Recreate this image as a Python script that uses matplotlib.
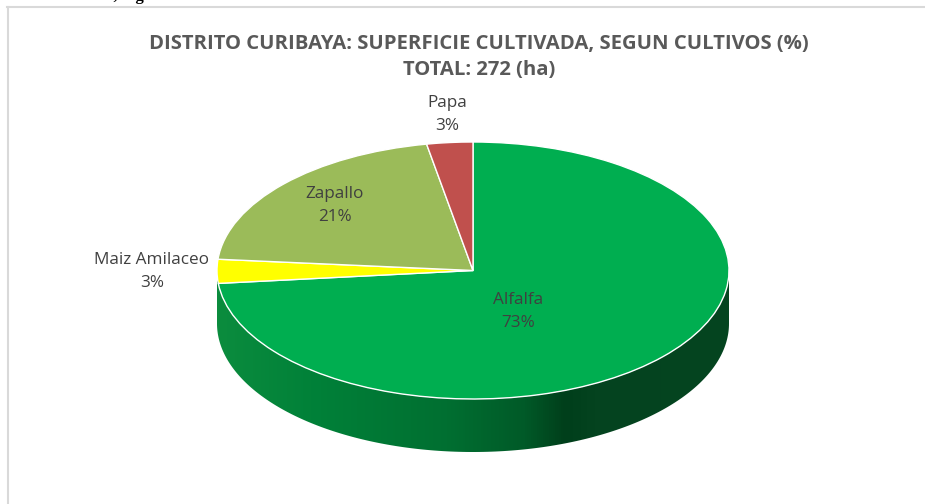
import matplotlib
matplotlib.use('Agg')
import matplotlib.pyplot as plt
import numpy as np
from matplotlib.colors import LinearSegmentedColormap
from matplotlib.lines import Line2D
from matplotlib.patches import PathPatch
from matplotlib.path import Path

cultivos = ['Alfalfa', 'Maiz Amilaceo', 'Zapallo', 'Papa']
porcentajes = [73.4, 3.0, 20.7, 2.9]
etiquetas = ['73%', '3%', '21%', '3%']
colores = ['#00AE50', '#FFFF00', '#9BBB59', '#C0504D']

W, H = 925, 504
CX, CY = 473, 270.5
RX, RY = 256, 128.5
DEPTH = 53 / RY

plt.rcParams['font.family'] = ['Open Sans', 'DejaVu Sans']

fig = plt.figure(figsize=(W / 100, H / 100), dpi=100, facecolor='white')
ax = fig.add_axes([0, 0, 1, 1])

# side of the disc, lower half of the ellipse pushed down
t = np.linspace(np.pi, 2 * np.pi, 200)
top_x, top_y = np.cos(t), np.sin(t)
verts = np.concatenate([np.c_[top_x, top_y], np.c_[top_x, top_y - DEPTH][::-1]])
verts = np.vstack([verts, verts[0]])
codes = [Path.MOVETO] + [Path.LINETO] * (len(verts) - 2) + [Path.CLOSEPOLY]
wall = PathPatch(Path(verts, codes), facecolor='none', edgecolor='none')
ax.add_patch(wall)
cmap = LinearSegmentedColormap.from_list('lado', [
    (0.0, '#0B8C3E'), (0.2, '#008038'), (0.45, '#006F31'), (0.6, '#005A28'),
    (0.68, '#003F1B'), (0.74, '#04431F'), (1.0, '#04451F')])
img = ax.imshow(np.linspace(0, 1, 512)[None, :], cmap=cmap, aspect='auto',
                extent=[-1, 1, -1 - DEPTH, 0], zorder=1)
img.set_clip_path(wall)

wedges, _ = ax.pie(porcentajes, colors=colores, startangle=90, counterclock=False,
                   radius=1, wedgeprops={'edgecolor': 'white', 'linewidth': 1.0, 'zorder': 2})

ax.set_aspect('auto')
ax.set_xlim(-CX / RX, (W - CX) / RX)
ax.set_ylim(-(H - CY) / RY, CY / RY)
ax.axis('off')

# chart frame, only left and top fall inside the crop
fig.add_artist(Line2D([8 / W, 8 / W], [0, 1 - 7 / H], color='#D9D9D9', lw=1.5))
fig.add_artist(Line2D([7 / W, 1], [1 - 7 / H, 1 - 7 / H], color='#D9D9D9', lw=1.5))

fig.text(479 / W, 1 - 43.5 / H, 'DISTRITO CURIBAYA: SUPERFICIE CULTIVADA, SEGUN CULTIVOS (%)',
         ha='center', va='center', fontsize=14.55, fontweight='bold', color='#595959')
fig.text(479 / W, 1 - 69.5 / H, 'TOTAL: 272 (ha)',
         ha='center', va='center', fontsize=14.55, fontweight='bold', color='#595959')

pos_etiquetas = [(518, 311.5), (152, 271.5), (335, 205.5), (447, 114.5)]
for nombre, pct, (px, py) in zip(cultivos, etiquetas, pos_etiquetas):
    fig.text(px / W, 1 - py / H, nombre + '\n' + pct, ha='center', va='center',
             fontsize=12.3, color='#404040', linespacing=1.62)

# caption of the page above the chart, cut by the crop
fig.text(128 / W, 1 + 4 / H, 'cultivos, según área', ha='center', va='center',
         fontsize=12, fontweight='bold', color='black', family=['Liberation Serif'])

fig.savefig('out.png', dpi=100)
